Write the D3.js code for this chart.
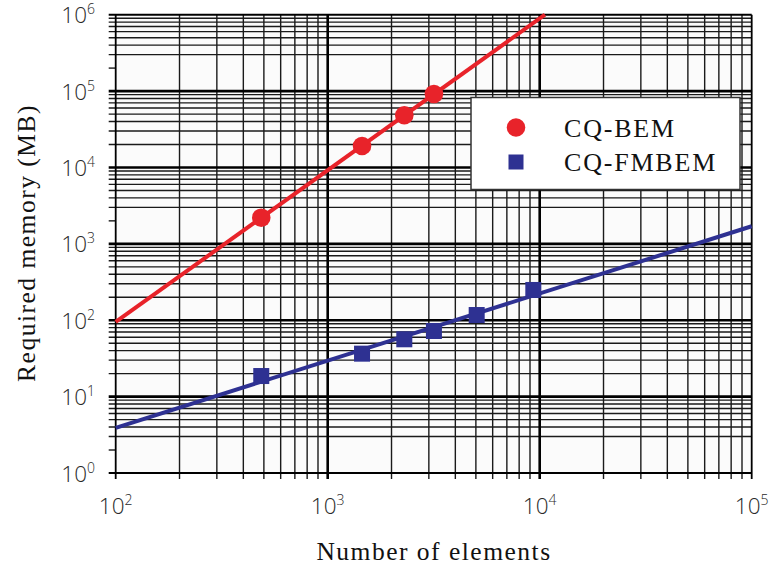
<!DOCTYPE html>
<html>
<head>
<meta charset="utf-8">
<script src="https://cdn.jsdelivr.net/npm/d3@7"></script>
<style>
  html, body { margin: 0; padding: 0; background: #ffffff; }
  svg { display: block; }
</style>
</head>
<body>
<svg id="chart" width="772" height="569"></svg>
<script>
// ---- data ----
const elements = [486, 1452, 2298, 3170, 5044, 9330];
const bemMemory = [2200, 19100, 48200, 91600];            // CQ-BEM (first 4 element counts)
const fmbemMemory = [18.6, 36.5, 56.3, 72.3, 117, 249];   // CQ-FMBEM
const bemFitX = [100, 10590];
const bemFitY = [95, 1000000];
const fmbemFitX = [100, 100000];
const fmbemFitY = [3.9, 1700];
const xDecades = [2, 3, 4, 5];          // 10^2 .. 10^5
const yDecades = [0, 1, 2, 3, 4, 5, 6]; // 10^0 .. 10^6
const stubMinor = [2, 2000, 200000];    // minor y lines that show only as short ticks
const seriesNames = ["CQ-BEM", "CQ-FMBEM"];
const colors = { bem: "#e8232a", fmbem: "#2e3192" };

(function () {
// ---- layout ----
const svg = d3.select("#chart");
const pL = 115.7, pR = 751.7, pT = 14.7, pB = 473;
const x = d3.scaleLog().domain([1e2, 1e5]).range([pL, pR]);
const y = d3.scaleLog().domain([1, 1e6]).range([pB, pT]);

// background
svg.append("rect").attr("x", pL).attr("y", pT)
  .attr("width", pR - pL).attr("height", pB - pT).attr("fill", "#fbfbfb");

// minor/major values
const xMinor = [], yMinor = [];
for (let e = 2; e < 5; e++) for (let k = 2; k <= 9; k++) xMinor.push(k * Math.pow(10, e));
for (let e = 0; e < 6; e++) for (let k = 2; k <= 9; k++) yMinor.push(k * Math.pow(10, e));
const xMajor = xDecades.map(e => Math.pow(10, e));
const yMajor = yDecades.map(e => Math.pow(10, e));

const grid = svg.append("g");
grid.selectAll(".vmin").data(xMinor).join("line")
  .attr("x1", d => x(d)).attr("x2", d => x(d))
  .attr("y1", pT).attr("y2", pB + 6)
  .attr("stroke", "#1a1a1a").attr("stroke-width", 1.4);
grid.selectAll(".hmin").data(yMinor).join("line")
  .attr("x1", pL - 7)
  .attr("x2", d => stubMinor.includes(d) ? pL : pR)
  .attr("y1", d => y(d)).attr("y2", d => y(d))
  .attr("stroke", "#1a1a1a").attr("stroke-width", 1.4);
grid.selectAll(".vmaj").data(xMajor).join("line")
  .attr("x1", d => x(d)).attr("x2", d => x(d))
  .attr("y1", pT).attr("y2", pB + 6)
  .attr("stroke", "#000").attr("stroke-width", d => (d === 1e2 || d === 1e5) ? 1.8 : 2.6);
grid.selectAll(".hmaj").data(yMajor).join("line")
  .attr("x1", pL - 7).attr("x2", pR)
  .attr("y1", d => y(d)).attr("y2", d => y(d))
  .attr("stroke", "#000").attr("stroke-width", d => (d === 1 || d === 1e6) ? 2 : 2.6);

// tick labels
const tickFont = "'Open Sans', 'Liberation Sans', sans-serif";
const yl = svg.append("g").attr("font-family", tickFont).attr("fill", "#2a2a2a");
yDecades.forEach(e => {
  const t = yl.append("text").attr("x", 95).attr("y", y(Math.pow(10, e)) + 8.5)
    .attr("text-anchor", "end").attr("font-size", 22.5).attr("font-weight", 300);
  t.append("tspan").text("10");
  t.append("tspan").attr("font-size", 14).attr("dy", -9).text(String(e));
});
const xl = svg.append("g").attr("font-family", tickFont).attr("fill", "#2a2a2a");
xDecades.forEach(e => {
  const t = xl.append("text").attr("x", x(Math.pow(10, e))).attr("y", 514)
    .attr("text-anchor", "middle").attr("font-size", 22.5).attr("font-weight", 300);
  t.append("tspan").text("10");
  t.append("tspan").attr("font-size", 14).attr("dy", -9).text(String(e));
});

// axis titles
const serif = "'Liberation Serif', 'DejaVu Serif', serif";
svg.append("text").attr("x", 434).attr("y", 560).attr("text-anchor", "middle")
  .attr("font-family", serif).attr("font-size", 25.5).attr("letter-spacing", 1.5)
  .attr("fill", "#111").text("Number of elements");
svg.append("text").attr("transform", "translate(35,243) rotate(-90)")
  .attr("text-anchor", "middle")
  .attr("font-family", serif).attr("font-size", 25.5).attr("letter-spacing", 1.5)
  .attr("fill", "#111").text("Required memory (MB)");

// fit lines
const lineGen = d3.line().x(d => x(d[0])).y(d => y(d[1]));
svg.append("path").datum(d3.zip(bemFitX, bemFitY)).attr("d", lineGen)
  .attr("fill", "none").attr("stroke", colors.bem).attr("stroke-width", 4);
svg.append("path").datum(d3.zip(fmbemFitX, fmbemFitY)).attr("d", lineGen)
  .attr("fill", "none").attr("stroke", colors.fmbem).attr("stroke-width", 4);

// points
svg.selectAll(".bem").data(d3.zip(elements.slice(0, bemMemory.length), bemMemory)).join("circle")
  .attr("cx", d => x(d[0])).attr("cy", d => y(d[1])).attr("r", 9.3)
  .attr("fill", colors.bem);
svg.selectAll(".fm").data(d3.zip(elements, fmbemMemory)).join("rect")
  .attr("x", d => x(d[0]) - 8).attr("y", d => y(d[1]) - 8)
  .attr("width", 16).attr("height", 16).attr("fill", colors.fmbem);

// legend
const lg = svg.append("g");
lg.append("rect").attr("x", 471).attr("y", 97.5).attr("width", 269).attr("height", 92)
  .attr("fill", "#fff").attr("stroke", "#333").attr("stroke-width", 1.5);
lg.append("circle").attr("cx", 516).attr("cy", 127.5).attr("r", 9.3).attr("fill", colors.bem);
lg.append("rect").attr("x", 508.5).attr("y", 154.5).attr("width", 15).attr("height", 15).attr("fill", colors.fmbem);
lg.selectAll("text.lt").data(seriesNames).join("text")
  .attr("x", 564).attr("y", (d, i) => i === 0 ? 136.7 : 171)
  .attr("font-family", serif).attr("font-size", 26).attr("letter-spacing", 1.8)
  .attr("fill", "#111").text(d => d);
})();
</script>
</body>
</html>
